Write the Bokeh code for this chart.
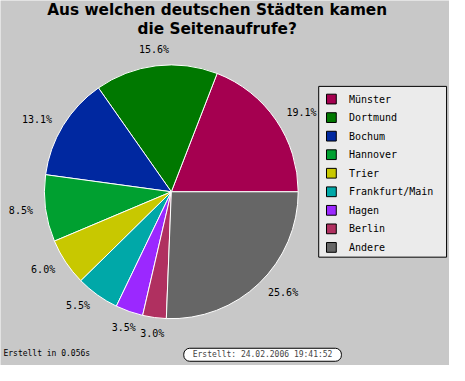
import math
from bokeh.plotting import figure
from bokeh.models import Range1d, Label, ColumnDataSource
from bokeh.core.properties import value
from bokeh.embed import file_html
from bokeh.resources import INLINE

cities = ["Münster", "Dortmund", "Bochum", "Hannover", "Trier",
          "Frankfurt/Main", "Hagen", "Berlin", "Andere"]
shares = [19.1, 15.6, 13.1, 8.5, 6.0, 5.5, 3.5, 3.0, 25.6]
colors = ["#A50050", "#007800", "#0028A0", "#00A030", "#C8C800",
          "#00A8A8", "#9B28FF", "#B03060", "#666666"]
title_lines = ["Aus welchen deutschen Städten kamen", "die Seitenaufrufe?"]
footer_left = "Erstellt in 0.056s"
footer_box = "Erstellt: 24.02.2006 19:41:52"

BG = "#C8C8C8"
H = 381
p = figure(width=449, height=365, x_range=Range1d(2, 462), y_range=Range1d(H - 378, H - 4),
           output_backend="svg", toolbar_location=None, min_border=0)
p.axis.visible = False
p.grid.visible = False
p.outline_line_color = None
p.background_fill_color = BG
p.border_fill_color = BG

# pie
cx, cy, r = 177, H - 200, 130
total = sum(shares)
starts, ends, mids = [], [], []
acc = 0.0
for s in shares:
    a0 = acc / total * 2 * math.pi
    acc += s
    a1 = acc / total * 2 * math.pi
    starts.append(a0); ends.append(a1); mids.append((a0 + a1) / 2)

src = ColumnDataSource(dict(start=starts, end=ends, color=colors))
p.wedge(x=cx, y=cy, radius=r, start_angle="start", end_angle="end", direction="anticlock",
        fill_color="color", line_color="white", line_width=1, source=src)

# percentage labels
lx, ly, la, lt = [], [], [], []
for m, s in zip(mids, shares):
    c = math.cos(m)
    R = 143 if abs(c) > 0.5 else 147
    lx.append(cx + R * c)
    ly.append(cy + R * math.sin(m))
    la.append("left" if c > 0.5 else ("right" if c < -0.5 else "center"))
    lt.append(f"{s:.1f}%")
p.text(x=lx, y=ly, text=lt, text_align=la, text_baseline="middle",
       text_font=value("DejaVu Sans Mono"), text_font_size="10px", text_color="black")

# title
p.text(x=[224, 224], y=[H - 14, H - 33], text=title_lines, text_align="center",
       text_baseline="middle", text_font=value("DejaVu Sans"), text_font_size="15.3px",
       text_font_style="bold", text_color="black")

# legend
p.quad(left=328, right=459, top=H - 92, bottom=H - 267, fill_color="#EBEBEB",
       line_color="black", line_width=1)
ys = [H - (105 + 19 * i) for i in range(len(cities))]
p.rect(x=341, y=ys, width=10, height=10, fill_color=colors, line_color="black", line_width=1)
p.text(x=359, y=ys, text=cities, text_baseline="middle", text_font=value("DejaVu Sans Mono"),
       text_font_size="10px", text_color="black")

# footer
p.text(x=[5], y=[H - 366], text=[footer_left], text_baseline="middle",
       text_font=value("DejaVu Sans Mono"), text_font_size="8px", text_color="black")
p.add_layout(Label(x=270.5, y=H - 367, text=footer_box, text_align="center",
                   text_baseline="middle", text_font="DejaVu Sans Mono", text_font_size="8px",
                   background_fill_color="white", border_line_color="black",
                   border_line_width=1, padding=(9, 2), border_radius=6))

open("out.html", "w").write(file_html(p, INLINE))
